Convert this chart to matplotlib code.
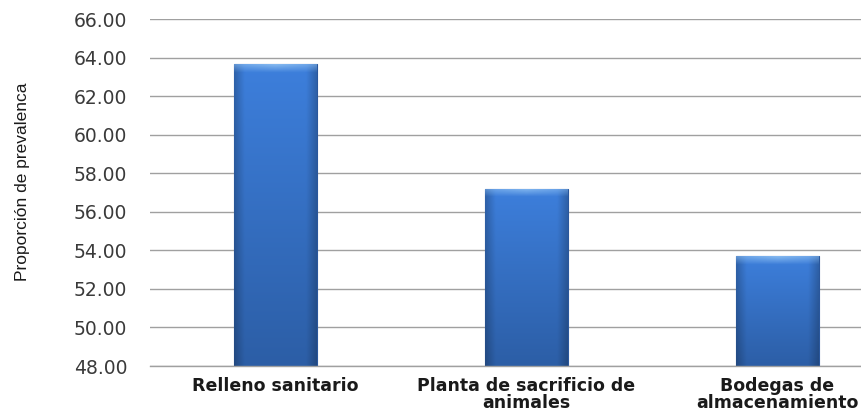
import matplotlib
matplotlib.use("Agg")
import matplotlib.pyplot as plt
import numpy as np
from matplotlib.colors import to_rgb

categories = ["Relleno sanitario", "Planta de sacrificio de\nanimales", "Bodegas de\nalmacenamiento"]
values = [63.65, 57.2, 53.7]
yticks = [48, 50, 52, 54, 56, 58, 60, 62, 64, 66]

fig = plt.figure(figsize=(8.61, 4.11), dpi=100)
ax = fig.add_axes([150/861, 1-366/411, 1-150/861, (366-19)/411])

x = np.arange(len(categories))
bars = ax.bar(x, [v - 48 for v in values], bottom=48, width=0.33,
              color="#3670c4", edgecolor="#2a579c", linewidth=0.8, zorder=3)

# shading texture for the bars (vertical light-to-dark, darker side edges, light top rim)
ny, nx = 200, 60
top_c = np.array(to_rgb("#3d7fdc"))
bot_c = np.array(to_rgb("#2c5ea6"))
tv = np.linspace(0, 1, ny)[:, None, None]
img = top_c * (1 - tv) + bot_c * tv
u = np.linspace(-1, 1, nx)[None, :, None]
edge = 1 - 0.22 * np.clip((np.abs(u) - 0.75) / 0.25, 0, 1)
img = img * edge
img = np.broadcast_to(img, (ny, nx, 3)).copy()
img = np.clip(img, 0, 1)

for b in bars:
    x0, y0 = b.get_x(), b.get_y()
    w, h = b.get_width(), b.get_height()
    im = ax.imshow(img, extent=[x0, x0 + w, y0, y0 + h], aspect="auto",
                   zorder=3.5, interpolation="bilinear")
    im.set_clip_path(b)
    rim = np.zeros((12, nx, 4))
    rim[..., :3] = to_rgb("#8ec0f2")
    rim[..., 3] = np.linspace(0.9, 0.0, 12)[:, None] * (1 - 0.4 * np.abs(np.linspace(-1, 1, nx)))[None, :]
    r = ax.imshow(rim, extent=[x0, x0 + w, y0 + h - 0.45, y0 + h], aspect="auto",
                  zorder=3.6, interpolation="bilinear")
    r.set_clip_path(b)

ax.set_xlim(-0.5, 2.333)
ax.set_ylim(48, 66)
ax.set_yticks(yticks)
ax.set_yticklabels([f"{t:.2f}" for t in yticks], fontsize=13.5, color="#3a3a3a",
                   fontfamily="DejaVu Sans")
ax.grid(axis="y", color="#a0a0a0", linewidth=1, zorder=0)
ax.set_axisbelow(True)
ax.tick_params(axis="y", length=0, pad=16.5)
ax.tick_params(axis="x", length=0, pad=8)
ax.set_xticks(x)
ax.set_xticklabels(categories, fontsize=12.5, fontweight="bold", color="#1a1a1a",
                   fontfamily="DejaVu Sans", linespacing=0.95)
for s in ax.spines.values():
    s.set_visible(False)
ax.spines["bottom"].set_visible(True)
ax.spines["bottom"].set_color("#a0a0a0")
ax.spines["bottom"].set_linewidth(1)
ax.spines["bottom"].set_zorder(5)

fig.text(23/861, 1-182/411, "Proporción de prevalenca", rotation=90, ha="center", va="center",
         fontsize=12.5, color="#1a1a1a", fontfamily="Liberation Sans")

fig.savefig("out.png", dpi=100)
